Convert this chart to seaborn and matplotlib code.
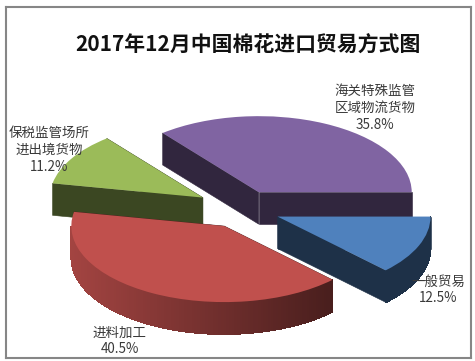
import numpy as np
import matplotlib
matplotlib.use("Agg")
import matplotlib.pyplot as plt
import seaborn as sns

# data
categories = ["一般贸易", "进料加工", "保税监管场所\n进出境货物", "海关特殊监管\n区域物流货物"]
shares = [12.5, 40.5, 11.2, 35.8]
colors = ["#4F81BD", "#C0504D", "#9BBB59", "#8064A2"]
explode = [0.25, 0.25, 0.30, 0.25]
title = "2017年12月中国棉花进口贸易方式图"

# label centres in pixels of the 475x361 picture
label_pos = [(438, 290), (120, 341), (49, 150), (375, 108)]
draw_order = [2, 3, 1, 0]  # back to front: purple, green, blue, red

W, H = 475, 361
RX, RY, DEPTH = 153.0, 76.0, 32.0  # pixels
CX, CY = 242.2, 209.3
L, R, T, B = 5.5, 470.5, 6.5, 357.5

sns.set_theme(style="white")
plt.rcParams["font.family"] = ["Noto Sans CJK SC", "DejaVu Sans"]

fig = plt.figure(figsize=(W / 100, H / 100), dpi=100, facecolor="white")
ax = fig.add_axes([L / W, 1 - B / H, (R - L) / W, (B - T) / H])

wedges, _ = ax.pie(shares, colors=colors, explode=explode, startangle=0,
                   counterclock=False, wedgeprops={"linewidth": 0})

# squash the pie into an ellipse, 1 data unit = RX / RY pixels
ax.set_aspect("auto")
ax.set_xlim((L - CX) / RX, (R - CX) / RX)
ax.set_ylim((CY - B) / RY, (CY - T) / RY)
ax.set_frame_on(True)
ax.set_xticks([])
ax.set_yticks([])
for sp in ax.spines.values():
    sp.set_color("#868686")
    sp.set_linewidth(1.5)

depth = DEPTH / RY


def shade(color, ang):
    # rim gets lighter towards the left of the pie
    c = np.array(sns.color_palette([color])[0])
    k = np.interp(np.cos(np.radians(ang)), [-1, 0.7], [0.85, 0.38])
    return tuple(c * k)


for layer, i in enumerate(draw_order):
    w = wedges[i]
    cx, cy = w.center
    base = layer * 10 + 1
    dark = shade(colors[i], 0)

    # the two cut faces
    for ang in (w.theta1, w.theta2):
        px = cx + np.cos(np.radians(ang))
        py = cy + np.sin(np.radians(ang))
        ax.fill([cx, px, px, cx], [cy, py, py - depth, cy - depth],
                color=dark, lw=0.4, zorder=base)

    # outer rim, only the front half shows, in thin strips for the gradient
    angs = np.linspace(w.theta1, w.theta2, int(w.theta2 - w.theta1) + 2)
    for a0, a1 in zip(angs[:-1], angs[1:]):
        if np.sin(np.radians((a0 + a1) / 2)) > 0:
            continue
        x0, x1 = cx + np.cos(np.radians(a0)), cx + np.cos(np.radians(a1))
        y0, y1 = cy + np.sin(np.radians(a0)), cy + np.sin(np.radians(a1))
        ax.fill([x0, x1, x1, x0], [y0, y1, y1 - depth, y0 - depth],
                color=shade(colors[i], (a0 + a1) / 2), lw=0.5,
                antialiased=False, zorder=base + 1)

    w.set_zorder(base + 2)

fig.text(248 / W, 1 - 45 / H, title, fontsize=15, fontweight="bold",
         color="#111111", ha="center", va="center")

for name, val, (x, y) in zip(categories, shares, label_pos):
    fig.text(x / W, 1 - y / H, f"{name}\n{val}%", fontsize=9.7, color="#3a3a3a",
             ha="center", va="center", linespacing=1.27)

fig.savefig("out.png", dpi=100, facecolor="white")
